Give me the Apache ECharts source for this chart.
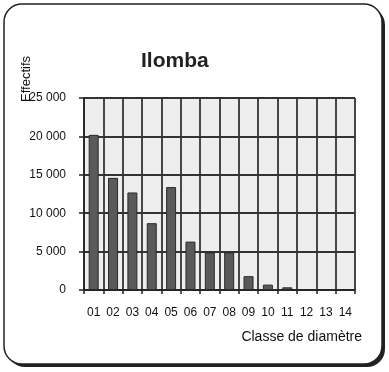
<!DOCTYPE html>
<html>
<head>
<meta charset="utf-8">
<style>
html,body{margin:0;padding:0;background:#fff;}
#c{width:389px;height:372px;}
</style>
<script src="https://cdn.jsdelivr.net/npm/echarts@6/dist/echarts.min.js"></script>
</head>
<body>
<div id="c"></div>
<script>
var categories = ['01','02','03','04','05','06','07','08','09','10','11','12','13','14'];
var effectifs = [20200, 14600, 12700, 8700, 13400, 6300, 4900, 4900, 1800, 700, 350, 0, 0, 0];
var yTicks = [0, 5000, 10000, 15000, 20000, 25000];

function fmt(v) {
  var s = String(Math.round(v));
  return s.replace(/\B(?=(\d{3})+(?!\d))/g, ' ');
}

var chart = echarts.init(document.getElementById('c'), null, {renderer: 'canvas'});
var font = 'Liberation Sans, Arial, sans-serif';
chart.setOption({
  animation: false,
  backgroundColor: '#ffffff',
  graphic: [
    {type: 'rect', z: -10, shape: {x: 7, y: 7, width: 378, height: 360, r: 18}, style: {fill: '#222'}},
    {type: 'rect', z: -9, shape: {x: 4, y: 4, width: 378, height: 360, r: 18}, style: {fill: '#fff', stroke: '#222', lineWidth: 1.5}},
    {type: 'text', z: 10, x: 26, y: 79, rotation: Math.PI / 2,
      style: {text: 'Effectifs', fill: '#111', font: '13px ' + font, align: 'center', verticalAlign: 'middle'}}
  ],
  title: {
    text: 'Ilomba',
    left: 136,
    top: 46,
    textStyle: {fontFamily: font, fontSize: 21, fontWeight: 'bold', color: '#222'}
  },
  grid: {
    left: 84, right: 34, top: 98, bottom: 82,
    show: true, backgroundColor: '#eeeeee', borderWidth: 0
  },
  xAxis: {
    type: 'category',
    data: categories,
    boundaryGap: true,
    name: 'Classe de diamètre',
    nameLocation: 'end',
    nameGap: 7,
    nameTextStyle: {fontFamily: font, fontSize: 14, color: '#111', align: 'right', verticalAlign: 'top', padding: [40, 0, 0, 0]},
    axisLine: {show: true, lineStyle: {color: '#222', width: 1.5}},
    axisTick: {show: true, length: 4, lineStyle: {color: '#222', width: 1.5}},
    axisLabel: {fontFamily: font, fontSize: 12, color: '#111', margin: 17, interval: 0},
    splitLine: {show: true, interval: 0, lineStyle: {color: '#333', width: 1.8}}
  },
  yAxis: {
    type: 'value',
    min: 0, max: 25000, interval: 5000,
    axisLine: {show: true, lineStyle: {color: '#222', width: 1.5}},
    axisTick: {show: true, length: 5, lineStyle: {color: '#222', width: 1.5}},
    axisLabel: {fontFamily: font, fontSize: 12, color: '#111', margin: 18, formatter: fmt},
    splitLine: {show: true, lineStyle: {color: '#333', width: 1.8}}
  },
  series: [{
    type: 'bar',
    data: effectifs,
    barWidth: 10,
    itemStyle: {color: '#5a5a5a', borderColor: '#2a2a2a', borderWidth: 1}
  }]
});
</script>
</body>
</html>
